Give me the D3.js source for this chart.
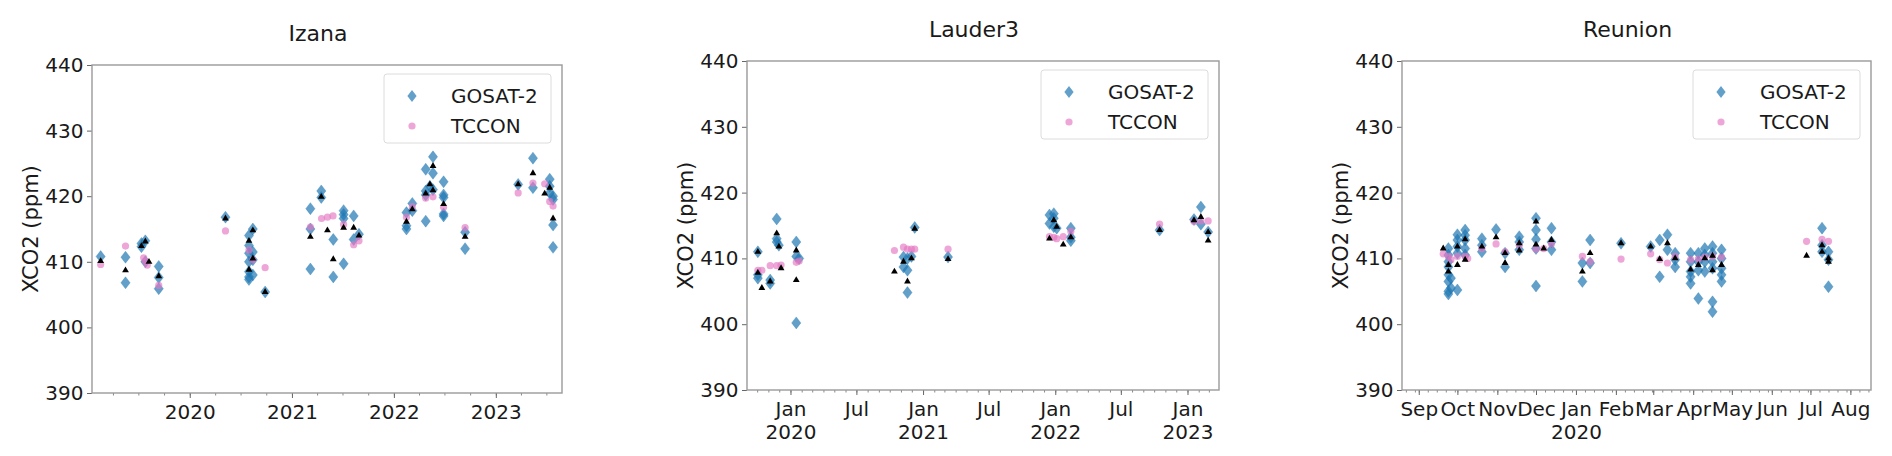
<!DOCTYPE html>
<html>
<head>
<meta charset="utf-8">
<script src="https://cdn.jsdelivr.net/npm/d3@7"></script>
<style>
  body { margin: 0; background: #fff; }
  text { font-family: "DejaVu Sans", sans-serif; fill: #1a1a1a; }
</style>
</head>
<body>
<svg id="chart" width="1892" height="456"></svg>
<script>
// ---- data (date, [values]) ----
var izanaGosat = [
  ["2019-02-16",[410.8]], ["2019-05-16",[410.7,406.8]], ["2019-07-12",[412.8,412.3]],
  ["2019-07-26",[413.2,410.0]], ["2019-09-12",[409.3,407.6,405.9]], ["2020-05-08",[416.8]],
  ["2020-07-31",[414.0,412.5,411.3,410.0,408.5,407.7,407.3]], ["2020-08-14",[415.0,411.5,410.3,408.0]],
  ["2020-09-27",[405.4]], ["2021-03-08",[418.1,415.0,408.9]], ["2021-04-16",[420.8,419.8]],
  ["2021-05-29",[413.4,407.7]], ["2021-07-05",[417.8,417.2,416.6,409.7]], ["2021-08-10",[417.0,413.4]],
  ["2021-08-29",[414.2]], ["2022-02-15",[417.5,415.5,415.0]], ["2022-03-08",[418.9,417.8]],
  ["2022-04-25",[424.1,420.8,420.2,416.2]], ["2022-05-10",[421.5]], ["2022-05-21",[426.0,423.5,421.0]],
  ["2022-06-28",[422.2,420.2,419.8,417.3,417.0]], ["2022-09-13",[414.5,412.0]], ["2023-03-22",[421.8]],
  ["2023-05-14",[425.8,421.3]], ["2023-07-13",[422.6,421.5,420.5]], ["2023-07-25",[420.0,419.5,415.6,412.2]]
];
var izanaTccon = [
  ["2019-02-16",[409.6]], ["2019-05-16",[412.4]], ["2019-07-20",[410.6]], ["2019-07-26",[410.1]],
  ["2019-08-02",[409.5]], ["2019-09-12",[406.4]], ["2020-05-08",[414.7]], ["2020-07-31",[411.8]],
  ["2020-08-14",[410.3]], ["2020-09-27",[409.1]], ["2021-03-08",[415.3]], ["2021-04-17",[416.6]],
  ["2021-05-08",[416.8]], ["2021-05-28",[417.0]], ["2021-07-05",[415.7]], ["2021-08-10",[412.6]],
  ["2021-08-29",[413.2]], ["2022-02-15",[416.8]], ["2022-03-08",[418.4]], ["2022-04-25",[419.7]],
  ["2022-05-21",[419.9]], ["2022-06-28",[418.3]], ["2022-09-13",[415.2]], ["2023-03-22",[420.5]],
  ["2023-05-14",[422.0]], ["2023-06-25",[421.9]], ["2023-07-13",[419.2]], ["2023-07-25",[418.5]]
];
var izanaMean = [
  ["2019-02-16",[410.1]], ["2019-05-16",[408.7]], ["2019-07-12",[412.4]], ["2019-07-26",[413.1]],
  ["2019-08-08",[410.0]], ["2019-09-12",[407.8]], ["2020-05-08",[416.6]], ["2020-07-31",[413.2,408.8]],
  ["2020-08-14",[414.8,410.5]], ["2020-09-27",[405.4]], ["2021-03-08",[413.8]], ["2021-04-16",[419.9]],
  ["2021-05-08",[414.8]], ["2021-05-29",[410.4]], ["2021-07-05",[415.2]], ["2021-08-10",[415.2]],
  ["2021-08-29",[414.0]], ["2022-02-15",[416.1]], ["2022-03-08",[418.0]], ["2022-04-25",[420.4]],
  ["2022-05-10",[421.8]], ["2022-05-21",[424.6,420.9]], ["2022-06-28",[418.8]], ["2022-09-13",[413.8]],
  ["2023-03-22",[421.8]], ["2023-05-14",[423.5]], ["2023-06-25",[420.4]], ["2023-07-13",[421.3]],
  ["2023-07-25",[416.6]]
];

var lauderGosat = [
  ["2019-10-03",[411.0,407.5,407.0]], ["2019-11-06",[406.7,406.2]], ["2019-11-24",[416.0,413.0,412.5]],
  ["2019-11-30",[412.0]], ["2020-01-17",[412.5,410.3,400.2]], ["2020-01-25",[410.0]],
  ["2020-11-08",[410.2,408.7]], ["2020-11-19",[410.0,408.2,404.8]], ["2020-11-30",[410.3]],
  ["2020-12-09",[414.7]], ["2021-03-11",[410.2]], ["2021-12-16",[416.6,415.3]],
  ["2021-12-28",[416.8,416.1,414.8]], ["2022-01-05",[414.6]], ["2022-02-13",[414.6,413.2,412.7]],
  ["2022-10-16",[414.3]], ["2023-01-19",[415.9]], ["2023-02-07",[417.8,415.2]], ["2023-02-27",[414.0]]
];
var lauderTccon = [
  ["2019-10-03",[408.2]], ["2019-10-14",[408.2]], ["2019-11-06",[408.9]], ["2019-11-24",[408.9]],
  ["2019-12-06",[409.0]], ["2020-01-17",[409.4]], ["2020-01-25",[409.6]], ["2020-10-14",[411.2]],
  ["2020-11-08",[411.7]], ["2020-11-19",[411.4]], ["2020-11-30",[411.4]], ["2020-12-09",[411.4]],
  ["2021-03-11",[411.4]], ["2021-12-16",[413.3]], ["2021-12-28",[413.2]], ["2022-01-05",[413.0]],
  ["2022-01-23",[413.3]], ["2022-02-13",[414.1]], ["2022-10-16",[415.2]], ["2023-01-19",[415.6]],
  ["2023-02-07",[415.7]], ["2023-02-27",[415.7]]
];
var lauderMean = [
  ["2019-10-03",[411.0,407.8]], ["2019-10-14",[405.5]], ["2019-11-06",[406.5]], ["2019-11-24",[413.8]],
  ["2019-11-30",[411.8]], ["2019-12-06",[408.5]], ["2020-01-17",[411.2,406.7]], ["2020-10-14",[408.0]],
  ["2020-11-08",[409.5]], ["2020-11-19",[406.5]], ["2020-11-30",[410.0]], ["2020-12-09",[414.5]],
  ["2021-03-11",[409.9]], ["2021-12-16",[413.0]], ["2021-12-28",[415.8]], ["2022-01-05",[414.8]],
  ["2022-01-23",[412.1]], ["2022-02-13",[413.2]], ["2022-10-16",[414.3]], ["2023-01-19",[415.8]],
  ["2023-02-07",[416.3]], ["2023-02-27",[414.0,412.7]]
];

var reunionGosat = [
  ["2019-09-24",[411.5,410.5,409.5,408.7,407.5,406.5,405.0,404.6]], ["2019-09-26",[407.0,405.5]],
  ["2019-10-01",[413.6,412.8,411.8,410.8,405.2]], ["2019-10-07",[414.3,413.5,412.8,411.5,410.5]],
  ["2019-10-20",[413.0,412.0,411.0]], ["2019-10-31",[414.4]], ["2019-11-07",[410.8,408.7]],
  ["2019-11-18",[413.3,412.5,411.3]], ["2019-12-01",[416.1,414.3,412.9,411.5,405.8]],
  ["2019-12-13",[414.6,412.5,411.3]], ["2020-01-06",[409.3,406.5]], ["2020-01-12",[412.8,409.3]],
  ["2020-02-05",[412.3]], ["2020-02-28",[411.8]], ["2020-03-06",[412.8,407.2]], ["2020-03-12",[413.6,411.3]],
  ["2020-03-18",[410.8,409.8,408.7]], ["2020-03-30",[410.8,409.5,408.0,407.2,406.2]],
  ["2020-04-05",[410.8,409.5,408.2,403.9]], ["2020-04-10",[411.5,410.5,409.5,408.0]],
  ["2020-04-16",[411.8,410.8,409.5,408.5,403.4,401.9]], ["2020-04-23",[411.3,410.0,408.5,407.5,406.5]],
  ["2020-07-10",[414.6,412.0,411.0]], ["2020-07-15",[411.0,409.8,405.7]]
];
var reunionTccon = [
  ["2019-09-20",[410.7]], ["2019-09-24",[410.3]], ["2019-09-26",[409.8]], ["2019-10-01",[410.3]],
  ["2019-10-07",[410.3]], ["2019-10-09",[410.0]], ["2019-10-20",[411.5]], ["2019-10-31",[412.2]],
  ["2019-11-07",[411.0]], ["2019-11-18",[412.0]], ["2019-12-01",[411.4]], ["2019-12-07",[411.5]],
  ["2019-12-13",[412.2]], ["2020-01-06",[410.3]], ["2020-01-12",[409.5]], ["2020-02-05",[409.9]],
  ["2020-02-28",[410.7]], ["2020-03-06",[409.8]], ["2020-03-12",[409.3]], ["2020-03-18",[410.3]],
  ["2020-03-30",[409.8]], ["2020-04-05",[409.9]], ["2020-04-10",[410.2]], ["2020-04-16",[410.3]],
  ["2020-04-23",[410.2]], ["2020-06-28",[412.6]], ["2020-07-10",[412.9]], ["2020-07-15",[412.6]]
];
var reunionMean = [
  ["2019-09-20",[411.5]], ["2019-09-24",[409.0,408.0]], ["2019-10-01",[411.8,409.0]],
  ["2019-10-07",[412.9,409.8]], ["2019-10-20",[411.8]], ["2019-10-31",[413.2]], ["2019-11-07",[410.8,409.3]],
  ["2019-11-18",[412.3,411.2]], ["2019-12-01",[415.6,412.1]], ["2019-12-07",[411.5]], ["2019-12-13",[412.8]],
  ["2020-01-06",[408.0]], ["2020-01-12",[410.8]], ["2020-02-05",[412.3]], ["2020-02-28",[411.8]],
  ["2020-03-06",[409.9]], ["2020-03-12",[412.3]], ["2020-03-18",[410.0]], ["2020-03-30",[408.3]],
  ["2020-04-05",[409.0]], ["2020-04-10",[410.0]], ["2020-04-16",[410.4,408.2]], ["2020-04-23",[409.0]],
  ["2020-06-28",[410.4]], ["2020-07-10",[412.0,411.0]], ["2020-07-15",[410.0,409.5]]
];

var yTicks = [390, 400, 410, 420, 430, 440];
var seriesNames = ["GOSAT-2", "TCCON"];
var yLabel = "XCO2 (ppm)";

var blue = "#1f77b4", pink = "#e377c2", spine = "#9a9a9a";
var parseDate = d3.timeParse("%Y-%m-%d");

var svg = d3.select("#chart");

//flatten [date,[v1,v2..]] into points
function flat(arr) {
  var out = [];
  arr.forEach(function(d) {
    d[1].forEach(function(v) { out.push({ date: parseDate(d[0]), value: v }); });
  });
  return out;
}

var panels = [
  { title: "Izana", gosat: izanaGosat, tccon: izanaTccon, mean: izanaMean,
    domain: ["2019-01-16", "2023-08-26"], left: 92, right: 562, top: 65, bottom: 393,
    major: d3.timeYear.every(1), minor: d3.timeMonth.every(3), fmt: "year" },
  { title: "Lauder3", gosat: lauderGosat, tccon: lauderTccon, mean: lauderMean,
    domain: ["2019-09-03", "2023-03-29"], left: 747, right: 1219, top: 61, bottom: 390,
    major: d3.timeMonth.every(6), minor: d3.timeMonth.every(1), fmt: "halfyear" },
  { title: "Reunion", gosat: reunionGosat, tccon: reunionTccon, mean: reunionMean,
    domain: ["2019-08-19", "2020-08-17"], left: 1402, right: 1871, top: 61, bottom: 390,
    major: d3.timeMonth.every(1), minor: d3.timeDay.every(7), fmt: "month" }
];

function diamond(w, h) { return "M0," + (-h) + "L" + w + ",0L0," + h + "L" + (-w) + ",0Z"; }
var tri = d3.symbol().type(d3.symbolTriangle).size(20)();

panels.forEach(function(p) {
  var g = svg.append("g");
  var x = d3.scaleTime().domain(p.domain.map(parseDate)).range([p.left, p.right]);
  var y = d3.scaleLinear().domain([390, 440]).range([p.bottom, p.top]);

  // minor x ticks
  var minorAx = g.append("g").attr("transform", "translate(0," + p.bottom + ")")
    .call(d3.axisBottom(x).ticks(p.minor).tickSize(2.5).tickFormat(""));
  minorAx.select(".domain").remove();
  minorAx.selectAll("line").attr("stroke", "#888");

  // major x ticks
  var monthFmt = d3.timeFormat("%b"), yearFmt = d3.timeFormat("%Y");
  var xa = g.append("g").attr("transform", "translate(0," + p.bottom + ")")
    .call(d3.axisBottom(x).ticks(p.major).tickSize(5).tickPadding(7)
      .tickFormat(function(d) { return p.fmt == "year" ? yearFmt(d) : monthFmt(d); }));
  xa.select(".domain").remove();
  xa.selectAll("line").attr("stroke", "#666");
  xa.selectAll("text").attr("font-size", 20).attr("font-family", "DejaVu Sans").attr("fill", "#1a1a1a");
  if (p.fmt != "year") {
    // year written under january
    xa.selectAll(".tick").filter(function(d) { return d.getMonth() == 0; })
      .append("text").attr("y", 12).attr("dy", "1.85em")
      .attr("font-size", 20).attr("fill", "#1a1a1a").attr("text-anchor", "middle")
      .text(function(d) { return yearFmt(d); });
  }

  // y axis
  var ya = g.append("g").attr("transform", "translate(" + p.left + ",0)")
    .call(d3.axisLeft(y).tickValues(yTicks).tickSize(5).tickPadding(3.5));
  ya.select(".domain").remove();
  ya.selectAll("line").attr("stroke", "#666");
  ya.selectAll("text").attr("font-size", 20).attr("font-family", "DejaVu Sans").attr("fill", "#1a1a1a");

  // frame
  g.append("rect").attr("x", p.left).attr("y", p.top)
    .attr("width", p.right - p.left).attr("height", p.bottom - p.top)
    .attr("fill", "none").attr("stroke", spine).attr("stroke-width", 1.4);

  // points
  g.append("g").selectAll("path").data(flat(p.gosat)).enter().append("path")
    .attr("d", diamond(4.6, 6))
    .attr("transform", function(d) { return "translate(" + x(d.date) + "," + y(d.value) + ")"; })
    .attr("fill", blue).attr("fill-opacity", 0.7)
    .attr("stroke", blue).attr("stroke-opacity", 0.3).attr("stroke-width", 1);
  g.append("g").selectAll("circle").data(flat(p.tccon)).enter().append("circle")
    .attr("cx", function(d) { return x(d.date); })
    .attr("cy", function(d) { return y(d.value); })
    .attr("r", 3.6).attr("fill", pink).attr("fill-opacity", 0.65);
  g.append("g").selectAll("path").data(flat(p.mean)).enter().append("path")
    .attr("d", tri)
    .attr("transform", function(d) { return "translate(" + x(d.date) + "," + y(d.value) + ")"; })
    .attr("fill", "#000");

  // title
  g.append("text").attr("x", (p.left + p.right) / 2 - 9).attr("y", p.top - 24)
    .attr("text-anchor", "middle").attr("font-size", 22).text(p.title);

  // y label
  g.append("text")
    .attr("transform", "translate(" + (p.left - 61) + "," + ((p.top + p.bottom) / 2) + ") rotate(-90)")
    .attr("text-anchor", "middle").attr("dy", "0.35em").attr("font-size", 21).text(yLabel);

  // legend
  var lx = p.right - 178, ly = p.top + 9;
  var leg = g.append("g").attr("transform", "translate(" + lx + "," + ly + ")");
  leg.append("rect").attr("width", 167).attr("height", 69).attr("rx", 3)
    .attr("fill", "#fff").attr("fill-opacity", 0.8).attr("stroke", "#dcdcdc");
  leg.append("path").attr("d", diamond(4.6, 6)).attr("transform", "translate(28,22)")
    .attr("fill", blue).attr("fill-opacity", 0.7);
  leg.append("circle").attr("cx", 28).attr("cy", 52).attr("r", 3.6)
    .attr("fill", pink).attr("fill-opacity", 0.65);
  leg.selectAll("text").data(seriesNames).enter().append("text")
    .attr("x", 67).attr("y", function(d, i) { return 22 + i * 30; }).attr("dy", "0.36em")
    .attr("font-size", 20).text(function(d) { return d; });
});
</script>
</body>
</html>
